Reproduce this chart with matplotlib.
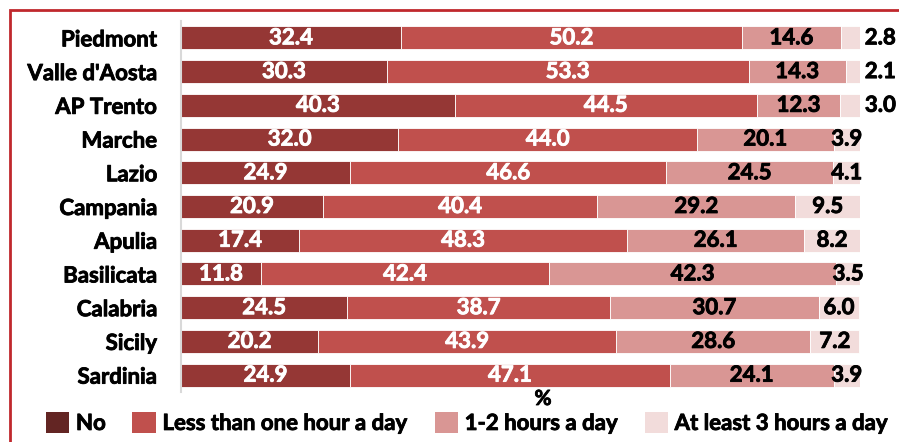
import matplotlib.pyplot as plt
import matplotlib.patheffects as pe
from matplotlib.patches import Rectangle, Patch

regions = ["Piedmont", "Valle d'Aosta", "AP Trento", "Marche", "Lazio", "Campania",
           "Apulia", "Basilicata", "Calabria", "Sicily", "Sardinia"]
no = [32.4, 30.3, 40.3, 32.0, 24.9, 20.9, 17.4, 11.8, 24.5, 20.2, 24.9]
less_one = [50.2, 53.3, 44.5, 44.0, 46.6, 40.4, 48.3, 42.4, 38.7, 43.9, 47.1]
one_two = [14.6, 14.3, 12.3, 20.1, 24.5, 29.2, 26.1, 42.3, 30.7, 28.6, 24.1]
three_plus = [2.8, 2.1, 3.0, 3.9, 4.1, 9.5, 8.2, 3.5, 6.0, 7.2, 3.9]
series_names = ["No", "Less than one hour a day", "1-2 hours a day", "At least 3 hours a day"]

bar_colors = ["#953735", "#C0504D", "#D99694", "#F2DCDB"]
legend_colors = ["#632523", "#C0504D", "#D99694", "#F2DCDB"]
text_colors = ["white", "white", "black", "black"]
# labels moved outside the bar in the original
outside = {"Piedmont", "Valle d'Aosta", "AP Trento"}

plt.rcParams['font.family'] = ['Lato', 'DejaVu Sans']
FS = 16


def thick(c):
    return [pe.withStroke(linewidth=0.6, foreground=c)]


fig = plt.figure(figsize=(8.99, 4.42), dpi=100)
ax = fig.add_axes([181 / 899, 1 - 392 / 442, 679 / 899, 371 / 442])

y = list(range(len(regions)))
left = [0.0] * len(regions)
for k, vals in enumerate([no, less_one, one_two, three_plus]):
    ax.barh(y, vals, left=left, height=0.68, color=bar_colors[k],
            edgecolor="white", linewidth=0.6)
    for i, v in enumerate(vals):
        if k == 3 and regions[i] in outside:
            x = 103.0
        else:
            x = left[i] + v / 2
        ax.text(x, i, f"{v:.1f}", ha="center", va="center", fontsize=FS,
                fontweight="bold", color=text_colors[k], clip_on=False,
                path_effects=thick(text_colors[k]))
    left = [a + b for a, b in zip(left, vals)]

ax.set_xlim(0, 100)
ax.set_ylim(len(regions) - 0.5, -0.5)
ax.set_yticks(y)
ax.set_yticklabels(regions, fontsize=FS, fontweight="bold")
for t in ax.get_yticklabels():
    t.set_path_effects(thick("black"))
ax.set_xticks([])
ax.tick_params(axis="y", length=0, pad=17)
for s in ["top", "right", "bottom"]:
    ax.spines[s].set_visible(False)
ax.spines["left"].set_color("#D9D9D9")
ax.spines["left"].set_linewidth(1.5)

fig.text(543 / 899, 1 - 399 / 442, "%", ha="center", va="center",
         fontsize=FS - 1, fontweight="bold", path_effects=thick("black"))

handles = [Patch(facecolor=c) for c in legend_colors]
leg = fig.legend(handles, series_names, loc="center", bbox_to_anchor=(467 / 899, 1 - 423 / 442),
                 ncol=4, frameon=False, prop={"size": FS, "weight": "bold"},
                 handlelength=1.05, handleheight=1.05,
                 handletextpad=0.3, columnspacing=1.2, borderaxespad=0)
for t in leg.get_texts():
    t.set_path_effects(thick("black"))

# red frame, cut off at the right and bottom edges
fig.patches.append(Rectangle((10 / 899, -0.1), 1.2, 1 - 10 / 442 + 0.1,
                             transform=fig.transFigure, fill=False,
                             edgecolor="#C0282D", linewidth=2))

fig.savefig("out.png", dpi=100)
